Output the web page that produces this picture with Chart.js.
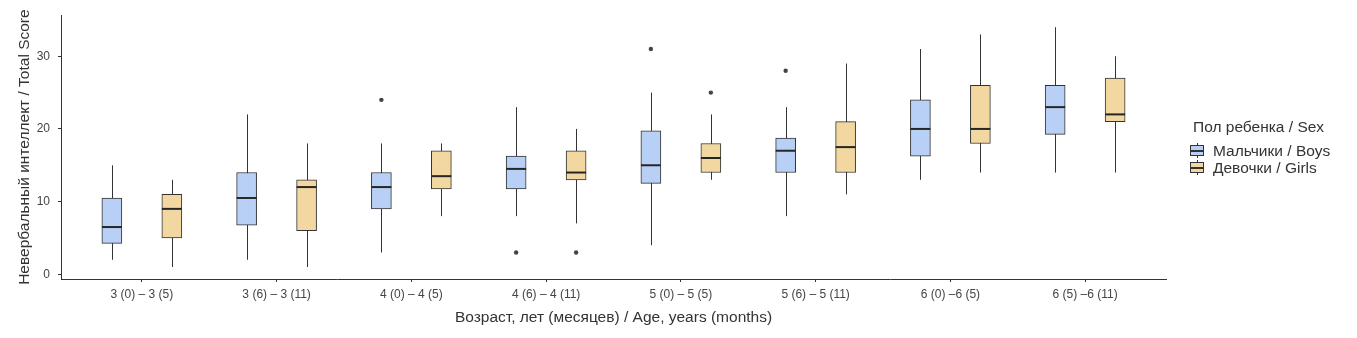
<!DOCTYPE html>
<html lang="ru">
<head>
<meta charset="UTF-8">
<title>Невербальный интеллект по возрасту и полу</title>
<script src="https://cdn.jsdelivr.net/npm/chart.js@4.4.0/dist/chart.umd.min.js"></script>
<style>
  body { margin: 0; background: #fff; }
  .wrap { position: relative; width: 1357px; height: 338px; }
  .legend {
    position: absolute; left: 1193px; top: 118px;
    font-family: "Liberation Sans", Arial, sans-serif; color: #333;
  }
  .legend .title { font-size: 15.5px; margin-bottom: 6px; }
  .legend .item { display: flex; align-items: center; height: 17px; font-size: 15.5px; margin-left: -3px; }
  .glyph { position: relative; width: 14px; height: 15px; margin-right: 9px; }
  .glyph .box { position: absolute; left: 0; top: 2px; width: 12px; height: 9px; border: 1px solid #333; }
  .glyph .med { position: absolute; left: 0; top: 7px; width: 14px; height: 1.5px; background: #333; }
  .glyph .wh { position: absolute; left: 6.5px; top: 0; width: 1px; height: 15px; background: #333; }
</style>
</head>
<body>
<div class="wrap">
  <canvas id="chart" width="1357" height="338"></canvas>
  <div class="legend">
    <div class="title">Пол ребенка / Sex</div>
    <div class="item"><span class="glyph"><span class="wh"></span><span class="box" style="background:#b8d0f5"></span><span class="med"></span></span>Мальчики / Boys</div>
    <div class="item"><span class="glyph"><span class="wh"></span><span class="box" style="background:#f2d8a0"></span><span class="med"></span></span>Девочки / Girls</div>
  </div>
</div>
<script>
// возрастные группы
const groups = ['3 (0) – 3 (5)', '3 (6) – 3 (11)', '4 (0) – 4 (5)', '4 (6) – 4 (11)',
                '5 (0) – 5 (5)', '5 (6) – 5 (11)', '6 (0) –6 (5)', '6 (5) –6 (11)'];
const yTicks = [0, 10, 20, 30];

// мальчики: усы, квартили, медиана, выбросы
const boysMin = [2, 2, 3, 8, 4, 8, 13, 14];
const boysQ1  = [4.25, 6.75, 9, 11.75, 12.5, 14, 16.25, 19.25];
const boysMed = [6.5, 10.5, 12, 14.5, 15, 17, 20, 23];
const boysQ3  = [10.5, 14, 14, 16.25, 19.75, 18.75, 24, 26];
const boysMax = [15, 22, 18, 23, 25, 23, 31, 34];
const boysOut = [[], [], [24], [3], [31], [28], [], []];

// девочки
const girlsMin = [1, 1, 8, 7, 13, 11, 14, 14];
const girlsQ1  = [5, 6, 11.75, 13, 14, 14, 18, 21];
const girlsMed = [9, 12, 13.5, 14, 16, 17.5, 20, 22];
const girlsQ3  = [11, 13, 17, 17, 18, 21, 26, 27];
const girlsMax = [13, 18, 18, 20, 22, 29, 33, 30];
const girlsOut = [[], [], [], [3], [25], [], [], []];

const BLUE = '#b8d0f5';
const TAN = '#f2d8a0';
const INK = '#333333';
const DODGE = 0.2225;   // смещение коробок от центра группы
const BOX_W = 20;

const sexes = [
  { shift: -DODGE, min: boysMin, q1: boysQ1, med: boysMed, q3: boysQ3, max: boysMax, out: boysOut, color: BLUE },
  { shift: DODGE, min: girlsMin, q1: girlsQ1, med: girlsMed, q3: girlsQ3, max: girlsMax, out: girlsOut, color: TAN }
];

function boxData(s) {
  return groups.map((g, i) => ({ x: i + 1 + s.shift, y: [s.q1[i], s.q3[i]] }));
}
function outlierData(s) {
  const pts = [];
  s.out.forEach((list, i) => list.forEach(v => pts.push({ x: i + 1 + s.shift, y: v })));
  return pts;
}

// усы под коробками, медианы поверх
const boxLines = {
  id: 'boxLines',
  beforeDatasetsDraw(chart) {
    const { ctx, scales: { x, y } } = chart;
    ctx.save();
    ctx.strokeStyle = INK;
    ctx.lineWidth = 1;
    sexes.forEach(s => {
      groups.forEach((g, i) => {
        const px = Math.round(x.getPixelForValue(i + 1 + s.shift)) + 0.5;
        ctx.beginPath();
        ctx.moveTo(px, y.getPixelForValue(s.min[i]));
        ctx.lineTo(px, y.getPixelForValue(s.max[i]));
        ctx.stroke();
      });
    });
    ctx.restore();
  },
  afterDatasetsDraw(chart) {
    const { ctx, scales: { x, y } } = chart;
    ctx.save();
    ctx.strokeStyle = '#262626';
    ctx.lineWidth = 2;
    sexes.forEach(s => {
      groups.forEach((g, i) => {
        const px = x.getPixelForValue(i + 1 + s.shift);
        const py = y.getPixelForValue(s.med[i]);
        ctx.beginPath();
        ctx.moveTo(px - BOX_W / 2, py);
        ctx.lineTo(px + BOX_W / 2, py);
        ctx.stroke();
      });
    });
    ctx.restore();
  }
};

const font = { family: '"Liberation Sans", Arial, sans-serif' };

new Chart(document.getElementById('chart'), {
  type: 'bar',
  data: {
    datasets: [
      ...sexes.map(s => ({
        type: 'scatter', data: outlierData(s),
        pointRadius: 2.2, pointBackgroundColor: '#444', pointBorderWidth: 0
      })),
      ...sexes.map(s => ({
        type: 'bar', data: boxData(s), grouped: false, barThickness: BOX_W,
        backgroundColor: s.color, borderColor: INK, borderWidth: 1, borderSkipped: false
      }))
    ]
  },
  options: {
    responsive: false,
    animation: false,
    layout: { padding: { top: 15, right: 191, left: 0, bottom: 0 } },
    plugins: { legend: { display: false }, tooltip: { enabled: false } },
    scales: {
      x: {
        type: 'linear', min: 0.4, max: 8.6, offset: false,
        afterBuildTicks: sc => { sc.ticks = groups.map((g, i) => ({ value: i + 1 })); },
        afterFit: sc => { sc.height = 59; },
        grid: { display: true, offset: false, drawOnChartArea: false, drawTicks: true, tickLength: 3, color: INK },
        border: { display: true, color: INK, width: 1 },
        ticks: {
          callback: v => groups[v - 1], color: '#444', padding: 5,
          font: { ...font, size: 12 }, maxRotation: 0, autoSkip: false
        },
        title: {
          display: true, text: 'Возраст, лет (месяцев) / Age, years (months)',
          color: INK, font: { ...font, size: 15.5 }, padding: { top: 0, bottom: 11 }
        }
      },
      y: {
        min: -0.65, max: 35.65,
        afterBuildTicks: sc => { sc.ticks = yTicks.map(v => ({ value: v })); },
        afterFit: sc => { sc.width = 61; },
        grid: { display: true, offset: false, drawOnChartArea: false, drawTicks: true, tickLength: 3, color: INK },
        border: { display: true, color: INK, width: 1 },
        ticks: { color: '#444', padding: 8, font: { ...font, size: 12 } },
        title: {
          display: true, text: 'Невербальный интеллект / Total Score',
          color: INK, font: { ...font, size: 15.5 }, padding: { top: 15, bottom: 0 }
        }
      }
    }
  },
  plugins: [boxLines]
});
</script>
</body>
</html>
